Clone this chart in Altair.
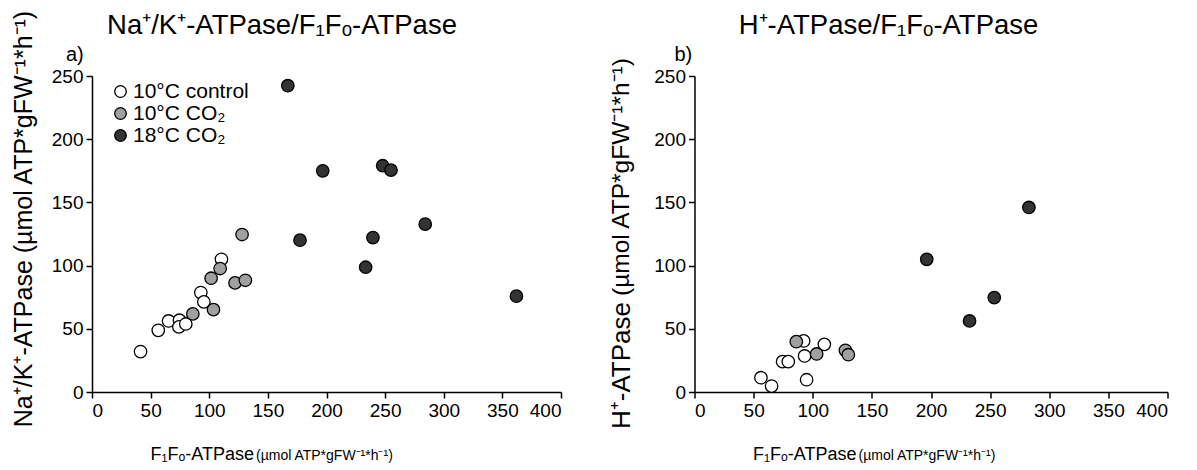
import altair as alt
import pandas as pd

FONT = "Liberation Sans"
groups = ["10°C control", "10°C CO₂", "18°C CO₂"]
colors = ["#ffffff", "#a0a0a0", "#333333"]

# Panel a) Na+/K+-ATPase vs F1Fo-ATPase
a_ctrl_x = [41.4, 56.5, 65.3, 74.6, 74.1, 80.0, 92.8, 95.4, 110.4]
a_ctrl_y = [32.0, 48.8, 56.2, 56.8, 51.5, 53.8, 78.7, 71.3, 105.0]
a_co2_x = [86.0, 101.6, 103.6, 109.3, 122.0, 130.8, 128.0]
a_co2_y = [61.8, 90.0, 65.2, 97.7, 86.3, 88.4, 124.6]
a_18_x = [167.0, 177.4, 196.8, 247.9, 255.0, 239.6, 284.2, 233.4, 362.0]
a_18_y = [242.3, 120.1, 175.0, 179.0, 175.5, 122.2, 132.8, 98.7, 75.8]

# Panel b) H+-ATPase vs F1Fo-ATPase
b_ctrl_x = [56.2, 65.2, 74.5, 79.3, 92.3, 93.1, 94.8, 109.8]
b_ctrl_y = [11.3, 4.7, 24.0, 24.0, 40.4, 28.5, 9.7, 37.7]
b_co2_x = [86.1, 103.3, 127.6, 130.1]
b_co2_y = [39.8, 30.1, 33.0, 29.5]
b_18_x = [196.4, 232.6, 253.5, 282.8]
b_18_y = [105.0, 56.2, 74.7, 146.0]

x_ticks = [0, 50, 100, 150, 200, 250, 300, 350, 400]
y_ticks = [0, 50, 100, 150, 200, 250]


def make_df(xs_list, ys_list):
    rows = []
    for g, xs, ys in zip(groups, xs_list, ys_list):
        for xv, yv in zip(xs, ys):
            rows.append({"x": xv, "y": yv, "group": g})
    return pd.DataFrame(rows)


df_a = make_df([a_ctrl_x, a_co2_x, a_18_x], [a_ctrl_y, a_co2_y, a_18_y])
df_b = make_df([b_ctrl_x, b_co2_x, b_18_x], [b_ctrl_y, b_co2_y, b_18_y])

W_A, W_B, H = 469, 473, 316


def text_layer(txt, x, y, size, align="center", angle=0, baseline="alphabetic"):
    kw = dict(font=FONT, fontSize=size, align=align, baseline=baseline, color="black")
    if angle:
        kw["angle"] = angle
    return alt.Chart(pd.DataFrame({"t": [txt]})).mark_text(**kw).encode(
        text="t:N", x=alt.value(x), y=alt.value(y)
    )


def scatter(df, width, legend):
    return alt.Chart(df).mark_circle(
        size=155, stroke="black", strokeWidth=1.3, opacity=1
    ).encode(
        x=alt.X("x:Q", scale=alt.Scale(domain=[0, 400], nice=False),
                axis=alt.Axis(values=x_ticks, title=None)),
        y=alt.Y("y:Q", scale=alt.Scale(domain=[0, 250], nice=False),
                axis=alt.Axis(values=y_ticks, title=None)),
        fill=alt.Fill("group:N", scale=alt.Scale(domain=groups, range=colors),
                      legend=legend, sort=groups),
        order=alt.Order("order:Q"),
    ).transform_calculate(
        order="indexof(['10°C control','10°C CO₂','18°C CO₂'], datum.group)"
    ).properties(width=width, height=H)


legend_a = alt.Legend(
    orient="none", legendX=18, legendY=5, title=None, labelFont=FONT,
    labelFontSize=21, labelColor="black", symbolType="circle", symbolSize=135,
    symbolStrokeColor="black", symbolStrokeWidth=1.3, rowPadding=0,
    labelOffset=2, symbolOpacity=1, labelLimit=300,
)

xt_big = "F₁Fₒ-ATPase"
xt_small = "(µmol ATP*gFW⁻¹*h⁻¹)"

panel_a = alt.layer(
    scatter(df_a, W_A, legend_a),
    text_layer("Na⁺/K⁺-ATPase/F₁Fₒ-ATPase", 190, -42, 27.5),
    text_layer("a)", -26, -15, 20, align="left"),
    text_layer("Na⁺/K⁺-ATPase (µmol ATP*gFW⁻¹*h⁻¹)", -68, 143, 25,
               angle=270, baseline="middle"),
    text_layer(xt_big, 162, 384, 18, align="right"),
    text_layer(xt_small, 164, 384, 14, align="left"),
)

panel_b = alt.layer(
    scatter(df_b, W_B, None),
    text_layer("H⁺-ATPase/F₁Fₒ-ATPase", 194, -42, 27.5),
    text_layer("b)", -20, -15, 20, align="left"),
    text_layer("H⁺-ATPase", -73, 226, 26, align="right", angle=270,
               baseline="middle"),
    text_layer("(µmol ATP*gFW⁻¹*h⁻¹)", -73, 220, 24.5, align="left", angle=270,
               baseline="middle"),
    text_layer(xt_big, 162, 384, 18, align="right"),
    text_layer(xt_small, 164, 384, 14, align="left"),
)

chart = alt.hconcat(panel_a, panel_b, spacing=45.5).resolve_scale(
    fill="independent"
).properties(
    padding={"left": 3, "top": 2, "right": 0, "bottom": 0}
).configure_view(stroke=None).configure_axis(
    grid=False, domainColor="black", domainWidth=1.5, tickColor="black",
    tickWidth=1.5, tickSize=6, labelFont=FONT, labelFontSize=19,
    labelColor="black", labelPadding=3,
)

chart.save("out.html", embed_options={"renderer": "svg", "actions": False})
